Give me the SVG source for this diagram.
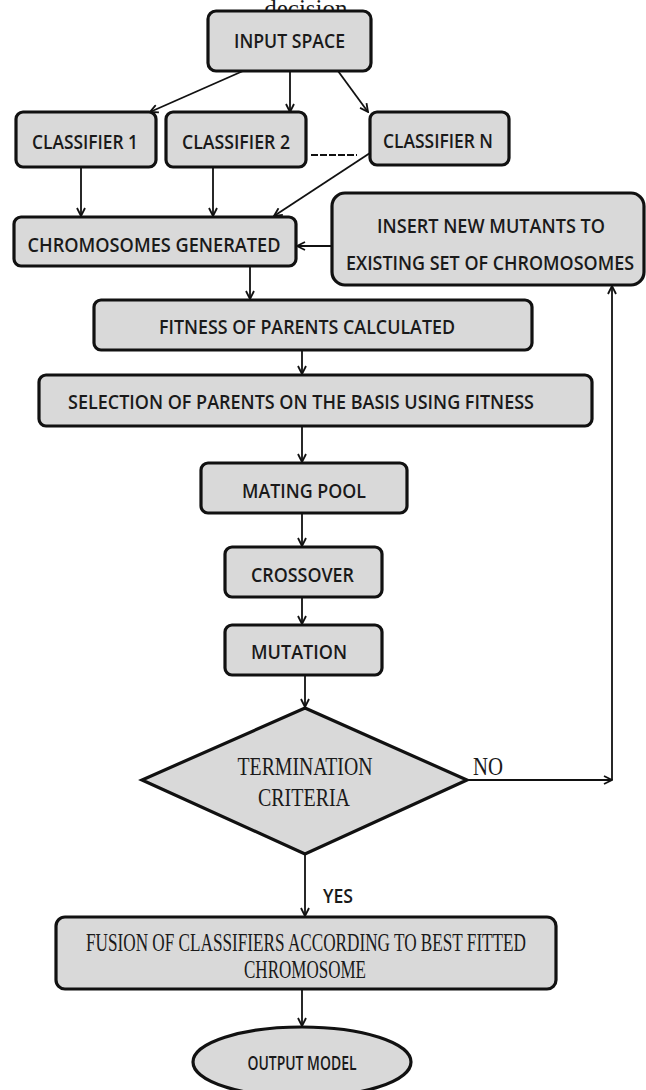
<svg xmlns="http://www.w3.org/2000/svg" width="646" height="1090" viewBox="0 0 646 1090">
  <style>
    .box { fill: #d9d9d9; stroke: #111; stroke-width: 3.2; }
    .lbl { font-family: "Open Sans", "Noto Sans", "Liberation Sans", sans-serif; font-weight: 600; font-size: 20px; fill: #1a1a1a; text-anchor: middle; dominant-baseline: central; }
    .serif { font-family: "Liberation Serif", "DejaVu Serif", serif; font-size: 25px; fill: #1a1a1a; text-anchor: middle; dominant-baseline: central; }
    .conn line { stroke: #111; stroke-width: 1.8; fill: none; }
  </style>
  <defs>
    <marker id="arrow" viewBox="0 0 10 10" refX="9" refY="5" markerWidth="10" markerHeight="10" markerUnits="userSpaceOnUse" orient="auto">
      <path d="M1,1 L9,5 L1,9" fill="none" stroke="#111" stroke-width="1.8"/>
    </marker>
  </defs>

  <rect width="646" height="1090" fill="#fff"/>

  <!-- caption line running in from the previous page -->
  <text x="309" y="8" class="serif" font-size="22" dominant-baseline="auto">decision.</text>

  <g id="input-space">
    <rect class="box" x="208" y="11" width="163" height="60" rx="8"/>
    <text class="lbl" x="289.5" y="40" textLength="111" lengthAdjust="spacingAndGlyphs">INPUT SPACE</text>
  </g>

  <g id="classifier-1">
    <rect class="box" x="16" y="112" width="140" height="55" rx="7"/>
    <text class="lbl" x="85" y="141" textLength="106" lengthAdjust="spacingAndGlyphs">CLASSIFIER 1</text>
  </g>

  <g id="classifier-2">
    <rect class="box" x="166" y="112" width="140" height="55" rx="7"/>
    <text class="lbl" x="236" y="141" textLength="108" lengthAdjust="spacingAndGlyphs">CLASSIFIER 2</text>
  </g>

  <g id="classifier-n">
    <rect class="box" x="370" y="112" width="139" height="53" rx="7"/>
    <text class="lbl" x="438" y="140" textLength="110" lengthAdjust="spacingAndGlyphs">CLASSIFIER N</text>
  </g>

  <g id="chromosomes-generated">
    <rect class="box" x="14" y="217" width="282" height="49" rx="7"/>
    <text class="lbl" x="154" y="244" textLength="253" lengthAdjust="spacingAndGlyphs">CHROMOSOMES GENERATED</text>
  </g>

  <g id="insert-mutants">
    <rect class="box" x="332" y="193" width="312" height="92" rx="13"/>
    <text class="lbl" x="491" y="225" font-size="19" textLength="228" lengthAdjust="spacingAndGlyphs">INSERT NEW MUTANTS TO</text>
    <text class="lbl" x="490" y="262" font-size="18" textLength="288" lengthAdjust="spacingAndGlyphs">EXISTING SET OF CHROMOSOMES</text>
  </g>

  <g id="fitness">
    <rect class="box" x="94" y="300" width="438" height="50" rx="7"/>
    <text class="lbl" x="307" y="326" textLength="296" lengthAdjust="spacingAndGlyphs">FITNESS OF PARENTS CALCULATED</text>
  </g>

  <g id="selection">
    <rect class="box" x="39" y="375" width="553" height="51" rx="7"/>
    <text class="lbl" x="301" y="401" textLength="466" lengthAdjust="spacingAndGlyphs">SELECTION OF PARENTS ON THE BASIS USING FITNESS</text>
  </g>

  <g id="mating-pool">
    <rect class="box" x="201" y="463" width="206" height="50" rx="7"/>
    <text class="lbl" x="304" y="490" textLength="124" lengthAdjust="spacingAndGlyphs">MATING POOL</text>
  </g>

  <g id="crossover">
    <rect class="box" x="225" y="547" width="157" height="50" rx="7"/>
    <text class="lbl" x="302.5" y="574" textLength="103" lengthAdjust="spacingAndGlyphs">CROSSOVER</text>
  </g>

  <g id="mutation">
    <rect class="box" x="225" y="625" width="157" height="50" rx="7"/>
    <text class="lbl" x="299" y="651" textLength="96" lengthAdjust="spacingAndGlyphs">MUTATION</text>
  </g>

  <g id="termination">
    <polygon class="box" points="305,708 467,780 305,854 142,780"/>
    <text class="serif" x="305" y="766" textLength="135" lengthAdjust="spacingAndGlyphs">TERMINATION</text>
    <text class="serif" x="304" y="797" textLength="92" lengthAdjust="spacingAndGlyphs">CRITERIA</text>
  </g>

  <g id="fusion">
    <rect class="box" x="56" y="917" width="500" height="72" rx="9"/>
    <text class="serif" x="306" y="942" font-size="19" textLength="440" lengthAdjust="spacingAndGlyphs">FUSION OF CLASSIFIERS ACCORDING TO BEST FITTED</text>
    <text class="serif" x="305" y="969" font-size="19" textLength="122" lengthAdjust="spacingAndGlyphs">CHROMOSOME</text>
  </g>

  <g id="output-model">
    <ellipse class="box" cx="302" cy="1062" rx="109" ry="35"/>
    <text class="lbl" x="302" y="1062" font-size="18" textLength="109" lengthAdjust="spacingAndGlyphs">OUTPUT MODEL</text>
  </g>

  <g id="connectors" class="conn">
    <line x1="243" y1="71" x2="150" y2="112" marker-end="url(#arrow)"/>
    <line x1="290" y1="71" x2="290" y2="112" marker-end="url(#arrow)"/>
    <line x1="338" y1="71" x2="368" y2="112" marker-end="url(#arrow)"/>
    <line x1="311" y1="155" x2="357" y2="155" stroke-dasharray="7,2"/>
    <line x1="81" y1="167" x2="81" y2="216" marker-end="url(#arrow)"/>
    <line x1="213" y1="167" x2="213" y2="216" marker-end="url(#arrow)"/>
    <line x1="370" y1="153" x2="274" y2="216" marker-end="url(#arrow)"/>
    <line x1="331" y1="246" x2="297" y2="246" marker-end="url(#arrow)"/>
    <line x1="250" y1="266" x2="250" y2="299" marker-end="url(#arrow)"/>
    <line x1="302" y1="350" x2="302" y2="374" marker-end="url(#arrow)"/>
    <line x1="302" y1="426" x2="302" y2="462" marker-end="url(#arrow)"/>
    <line x1="302" y1="513" x2="302" y2="546" marker-end="url(#arrow)"/>
    <line x1="302" y1="597" x2="302" y2="624" marker-end="url(#arrow)"/>
    <line x1="305" y1="675" x2="305" y2="707" marker-end="url(#arrow)"/>
    <line x1="305" y1="854" x2="305" y2="916" marker-end="url(#arrow)"/>
    <line x1="467" y1="780" x2="612" y2="780" marker-end="url(#arrow)"/>
    <line x1="612" y1="780" x2="612" y2="286" marker-end="url(#arrow)"/>
    <line x1="302" y1="989" x2="302" y2="1026" marker-end="url(#arrow)"/>
    <text x="488" y="766" class="serif" textLength="30" lengthAdjust="spacingAndGlyphs">NO</text>
    <text x="338" y="895" class="lbl" font-size="19" textLength="30" lengthAdjust="spacingAndGlyphs">YES</text>
  </g>
</svg>
